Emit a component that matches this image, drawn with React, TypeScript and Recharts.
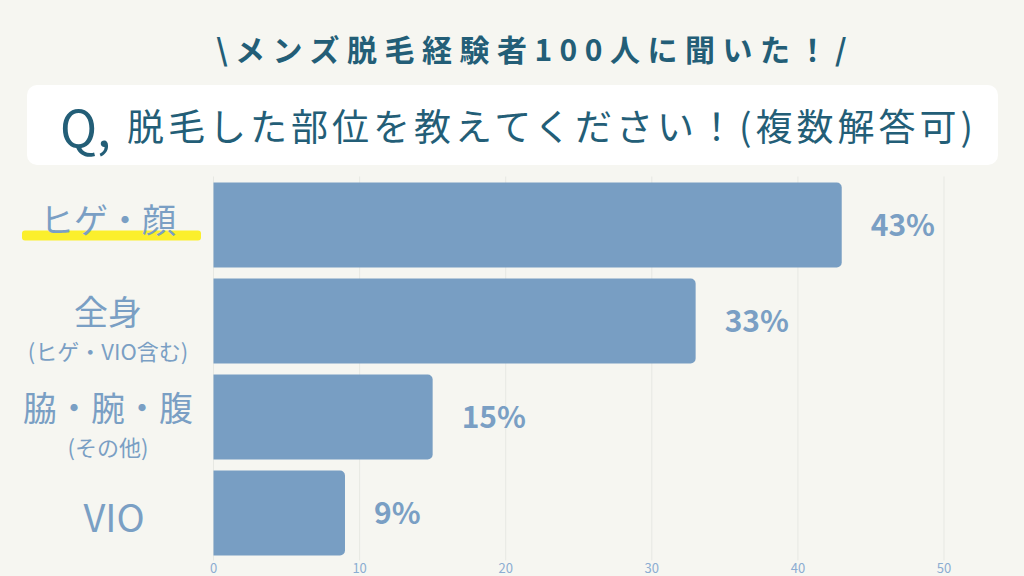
import { BarChart, Bar, XAxis, YAxis, CartesianGrid, LabelList } from 'recharts'

const CATEGORIES = ['ヒゲ・顔', '全身', '脇・腕・腹', 'VIO']
const SUB_LABELS = ['', '(ヒゲ・VIO含む)', '(その他)', '']
const VALUES = [43, 33, 15, 9]
const X_TICKS = [0, 10, 20, 30, 40, 50]

const HEADLINE = '\\メンズ脱毛経験者100人に聞いた！/'
const QUESTION = '脱毛した部位を教えてください！(複数解答可)'

const FONT = '"Noto Sans CJK JP", "Noto Sans", sans-serif'
const BAR_COLOR = '#789ec3'
const LABEL_COLOR = '#7a9fc4'
const TEAL = '#235e77'

const chartData = CATEGORIES.map((name, i) => ({ name, sub: SUB_LABELS[i], value: VALUES[i] }))

function CategoryTick({ y, index }: any) {
  const row = chartData[index]
  const highlight = index === 0
  const hasSub = !!row.sub
  const latin = /^[A-Z]+$/.test(row.name)
  const cx = latin ? 114 : 108
  const mainDy = hasSub ? -10 : highlight ? -6 : 3
  return (
    <g>
      {highlight && (
        <rect x={22} y={y + 6} width={179} height={10} rx={3} fill="#fbef2c" />
      )}
      <text
        x={cx}
        y={y + mainDy}
        textAnchor="middle"
        dominantBaseline="central"
        fill={LABEL_COLOR}
        fontSize={latin ? 38 : 34}
        fontFamily={FONT}
      >
        {row.name}
      </text>
      {hasSub && (
        <text
          x={cx}
          y={y + 29}
          textAnchor="middle"
          dominantBaseline="central"
          fill={LABEL_COLOR}
          fontSize={22}
          fontFamily={FONT}
        >
          {row.sub}
        </text>
      )}
    </g>
  )
}

export default function App() {
  return (
    <div
      style={{
        position: 'absolute',
        left: 0,
        top: 0,
        width: 1024,
        height: 576,
        background: '#f6f6f1',
        fontFamily: FONT,
        overflow: 'hidden',
      }}
    >
      <div
        style={{
          position: 'absolute',
          left: 0,
          width: 1070,
          top: 30,
          textAlign: 'center',
          fontSize: 30,
          fontWeight: 700,
          letterSpacing: 7.5,
          color: TEAL,
          lineHeight: '36px',
          whiteSpace: 'nowrap',
        }}
      >
        {HEADLINE}
      </div>
      <div
        style={{
          position: 'absolute',
          left: 27,
          top: 85,
          width: 971,
          height: 80,
          background: '#ffffff',
          borderRadius: 10,
        }}
      />
      <div
        style={{
          position: 'absolute',
          left: 60,
          top: 85,
          height: 80,
          display: 'flex',
          alignItems: 'center',
          color: TEAL,
          whiteSpace: 'nowrap',
        }}
      >
        <span style={{ fontSize: 50, marginRight: 16 }}>Q,</span>
        <span style={{ fontSize: 37, letterSpacing: 4 }}>{QUESTION}</span>
      </div>
      <div style={{ position: 'absolute', left: 0, top: 0 }}>
        <BarChart
          width={1024}
          height={576}
          data={chartData}
          layout="vertical"
          margin={{ top: 176.5, right: 80, bottom: 0, left: 13.5 }}
        >
          <CartesianGrid horizontal={false} stroke="#e7e8e3" />
          <XAxis
            type="number"
            domain={[0, 50]}
            ticks={X_TICKS}
            axisLine={false}
            tickLine={false}
            tickSize={0}
            tickMargin={3}
            height={15.5}
            tick={{ fill: '#8cadd2', fontSize: 13, fontFamily: FONT }}
          />
          <YAxis
            type="category"
            dataKey="name"
            width={200}
            axisLine={false}
            tickLine={false}
            tick={<CategoryTick />}
          />
          <Bar dataKey="value" fill={BAR_COLOR} barSize={85} radius={[0, 5, 5, 0]} isAnimationActive={false}>
            <LabelList
              dataKey="value"
              position="right"
              offset={29}
              formatter={(v: any) => `${v}%`}
              fill={LABEL_COLOR}
              fontSize={30}
              fontWeight={700}
              fontFamily={FONT}
            />
          </Bar>
        </BarChart>
      </div>
    </div>
  )
}
